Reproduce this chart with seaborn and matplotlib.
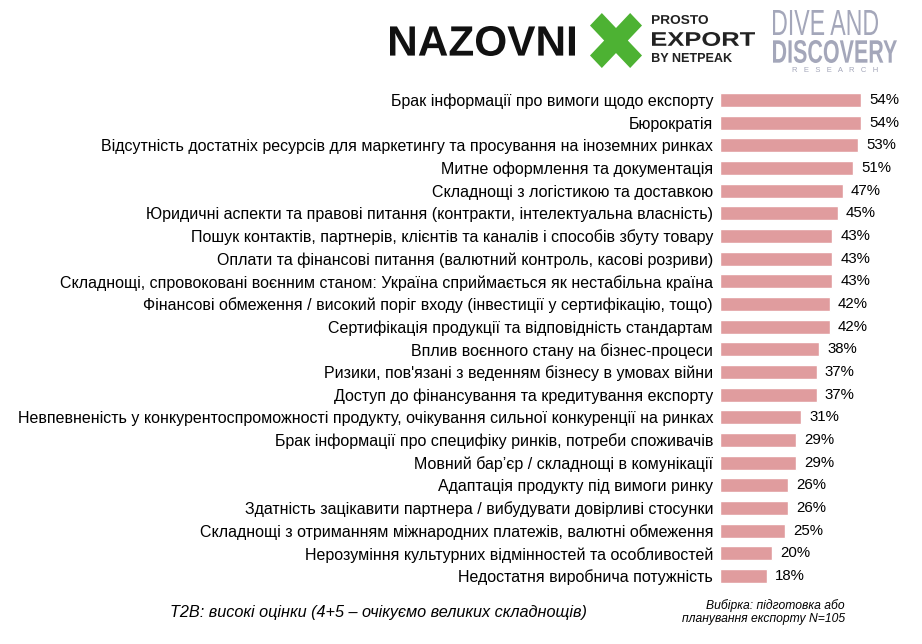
import matplotlib
matplotlib.use("Agg")
import matplotlib.pyplot as plt
from matplotlib.textpath import TextPath
from matplotlib.font_manager import FontProperties
from matplotlib.patches import PathPatch
from matplotlib.transforms import Affine2D
import seaborn as sns
import pandas as pd

categories = [
    "Брак інформації про вимоги щодо експорту",
    "Бюрократія",
    "Відсутність достатніх ресурсів для маркетингу та просування на іноземних ринках",
    "Митне оформлення та документація",
    "Складнощі з логістикою та доставкою",
    "Юридичні аспекти та правові питання (контракти, інтелектуальна власність)",
    "Пошук контактів, партнерів, клієнтів та каналів і способів збуту товару",
    "Оплати та фінансові питання (валютний контроль, касові розриви)",
    "Складнощі, спровоковані воєнним станом: Україна сприймається як нестабільна країна",
    "Фінансові обмеження / високий поріг входу (інвестиції у сертифікацію, тощо)",
    "Сертифікація продукції та відповідність стандартам",
    "Вплив воєнного стану на бізнес-процеси",
    "Ризики, пов'язані з веденням бізнесу в умовах війни",
    "Доступ до фінансування та кредитування експорту",
    "Невпевненість у конкурентоспроможності продукту, очікування сильної конкуренції на ринках",
    "Брак інформації про специфіку ринків, потреби споживачів",
    "Мовний бар’єр / складнощі в комунікації",
    "Адаптація продукту під вимоги ринку",
    "Здатність зацікавити партнера / вибудувати довірливі стосунки",
    "Складнощі з отриманням міжнародних платежів, валютні обмеження",
    "Нерозуміння культурних відмінностей та особливостей",
    "Недостатня виробнича потужність",
]
values = [54, 54, 53, 51, 47, 45, 43, 43, 43, 42, 42, 38, 37, 37, 31, 29, 29, 26, 26, 25, 20, 18]
value_labels = [f"{v}%" for v in values]

footer_left = "T2B: високі оцінки (4+5 – очікуємо великих складнощів)"
footer_right = "Вибірка: підготовка або\nпланування експорту N=105"

sns.set_theme(style="white")
plt.rcParams["font.family"] = ["Liberation Sans", "DejaVu Sans"]

W, H = 922, 644
fig = plt.figure(figsize=(W / 100, H / 100), dpi=100)

px_per_pct = 141 / 54
xmax = 70
ax_left = 720 / W
ax_w = px_per_pct * xmax / W
top_px, bot_px = 88.7, 587.3
ax = fig.add_axes([ax_left, 1 - bot_px / H, ax_w, (bot_px - top_px) / H])

df = pd.DataFrame({"cat": categories, "val": values})
sns.barplot(data=df, x="val", y="cat", color="#E09C9E", saturation=1,
            width=0.62, ax=ax, orient="h")
ax.set_xlim(0, xmax)
ax.set_ylim(len(categories) - 0.5, -0.5)
for s in ax.spines.values():
    s.set_visible(False)
ax.set_xticks([])
ax.set_xlabel("")
ax.set_ylabel("")
ax.tick_params(axis="y", length=0, pad=5, labelsize=11.5, labelcolor="#000000")

for i, (v, lab) in enumerate(zip(values, value_labels)):
    ax.annotate(lab, xy=(v, i), xytext=(6, 0), textcoords="offset points",
                ha="left", va="center", fontsize=10.8, color="#000000")

fig.text(170 / W, 1 - 612 / H, footer_left, fontsize=11.7, style="italic",
         ha="left", va="center", color="#000000")
fig.text(845 / W, 1 - 612 / H, footer_right, fontsize=8.7, style="italic",
         ha="right", va="center", color="#000000", linespacing=1.2)


# Logos: text fitted into boxes (pixel coordinates from top-left)
def fit_text(s, x0, x1, yt, yb, color, family="Liberation Sans", weight="normal"):
    prop = FontProperties(family=family, weight=weight)
    tp = TextPath((0, 0), s, size=10, prop=prop)
    ext = tp.get_extents()
    sx = (x1 - x0) / W / ext.width
    sy = (yb - yt) / H / ext.height
    tr = (Affine2D().translate(-ext.x0, -ext.y0).scale(sx, sy)
          .translate(x0 / W, 1 - yb / H))
    path = tr.transform_path(tp)
    patch = PathPatch(path, facecolor=color, edgecolor="none",
                      transform=fig.transFigure)
    fig.add_artist(patch)


fit_text("NAZOVNI", 390, 575, 26, 56, "#111111", weight="bold")
fit_text("✖", 590, 642, 13, 68, "#4DB233", family="DejaVu Sans")
fit_text("PROSTO", 652, 708, 15, 24, "#222222", weight="bold")
fit_text("EXPORT", 652, 755, 32, 46, "#222222", weight="bold")
fit_text("BY NETPEAK", 652, 732, 53, 62, "#222222", weight="bold")
fit_text("DIVE AND", 773, 878, 10, 35, "#A4A7BA")
fit_text("DISCOVERY", 773, 897, 40, 63, "#A4A7BA", weight="bold")
fig.text(835 / W, 1 - 71 / H, "R   E   S   E   A   R   C   H", fontsize=5.5,
         ha="center", va="center", color="#A4A7BA")

fig.savefig("out.png", dpi=100)
